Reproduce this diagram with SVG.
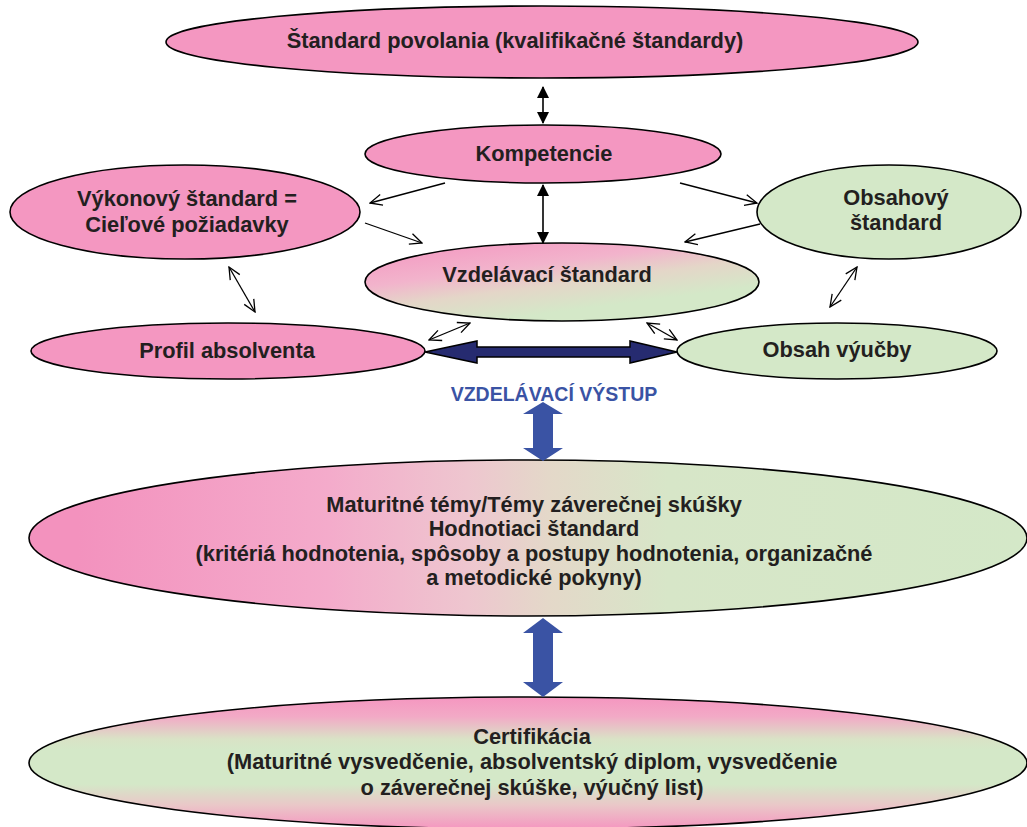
<svg xmlns="http://www.w3.org/2000/svg" width="1027" height="827" viewBox="0 0 1027 827">
<style>
.n{stroke:#000;stroke-width:1.6}
.pink{fill:#f497c1}
.green{fill:#d4e8c8}
.t{font-family:"Liberation Sans",Arial,sans-serif;font-weight:bold;font-size:21.8px;fill:#231f20;text-anchor:middle}
.ln{stroke:#000;stroke-width:1.3;fill:none}
.blk{stroke:#000;stroke-width:1.6;fill:none}
.blue{fill:#3a53a4}
.lbl{font-family:"Liberation Sans",Arial,sans-serif;font-weight:bold;font-size:19.5px;fill:#3a53a4;text-anchor:middle}
</style>
<defs>
<marker id="open" viewBox="0 0 14 14" refX="13" refY="7" markerWidth="14" markerHeight="14" markerUnits="userSpaceOnUse" orient="auto-start-reverse">
<path d="M1,1.5 L13,7 L1,12.5" fill="none" stroke="#000" stroke-width="1.3"/>
</marker>
<marker id="solid" viewBox="0 0 12 12" refX="11" refY="6" markerWidth="12" markerHeight="12" markerUnits="userSpaceOnUse" orient="auto-start-reverse">
<path d="M0,0 L12,6 L0,12 Z" fill="#000"/>
</marker>
<linearGradient id="gVz" x1="0.1" y1="0" x2="0.75" y2="1">
<stop offset="0" stop-color="#f497c1"/>
<stop offset="0.35" stop-color="#f2b4cc"/>
<stop offset="0.55" stop-color="#e4d6c8"/>
<stop offset="0.8" stop-color="#d4e8c8"/>
<stop offset="1" stop-color="#d4e8c8"/>
</linearGradient>
<linearGradient id="gMat" x1="0" y1="0" x2="1" y2="0">
<stop offset="0.05" stop-color="#f392be"/>
<stop offset="0.3" stop-color="#f4abcb"/>
<stop offset="0.44" stop-color="#eec6cf"/>
<stop offset="0.52" stop-color="#e4d8c9"/>
<stop offset="0.64" stop-color="#d7e6c8"/>
<stop offset="1" stop-color="#d4e8c8"/>
</linearGradient>
<linearGradient id="gCert" x1="0" y1="0" x2="0" y2="1">
<stop offset="0" stop-color="#f596c0"/>
<stop offset="0.15" stop-color="#f2aac6"/>
<stop offset="0.32" stop-color="#d9e3c6"/>
<stop offset="0.4" stop-color="#d4e8c8"/>
<stop offset="0.66" stop-color="#d4e8c8"/>
<stop offset="0.82" stop-color="#eac7c8"/>
<stop offset="1" stop-color="#f596c0"/>
</linearGradient>
</defs>

<g id="node-standard-povolania">
<ellipse class="n pink" cx="542" cy="42" rx="376" ry="36"/>
<text class="t" x="515" y="48">Štandard povolania (kvalifikačné štandardy)</text>
</g>
<g id="node-kompetencie">
<ellipse class="n pink" cx="543" cy="154" rx="178" ry="29"/>
<text class="t" x="544" y="161">Kompetencie</text>
</g>
<g id="node-vykonovy">
<ellipse class="n pink" cx="185" cy="212" rx="175" ry="47"/>
<text class="t" x="187" y="206">Výkonový štandard =</text>
<text class="t" x="187" y="232">Cieľové požiadavky</text>
</g>
<g id="node-obsahovy">
<ellipse class="n green" cx="889" cy="212" rx="132" ry="47"/>
<text class="t" x="896" y="205">Obsahový</text>
<text class="t" x="896" y="230">štandard</text>
</g>
<g id="node-vzdelavaci">
<ellipse class="n" fill="url(#gVz)" cx="562" cy="282" rx="197" ry="39"/>
<text class="t" x="547" y="282">Vzdelávací štandard</text>
</g>
<g id="node-profil">
<ellipse class="n pink" cx="228" cy="351" rx="197" ry="28"/>
<text class="t" x="227" y="358">Profil absolventa</text>
</g>
<g id="node-obsah-vyucby">
<ellipse class="n green" cx="837" cy="351" rx="160" ry="28"/>
<text class="t" x="837" y="357">Obsah výučby</text>
</g>
<g id="node-maturitne">
<ellipse class="n" fill="url(#gMat)" cx="528" cy="538" rx="499" ry="78"/>
<text class="t" x="534" y="512">Maturitné témy/Témy záverečnej skúšky</text>
<text class="t" x="534" y="536">Hodnotiaci štandard</text>
<text class="t" x="534" y="561">(kritériá hodnotenia, spôsoby a postupy hodnotenia, organizačné</text>
<text class="t" x="534" y="585">a metodické pokyny)</text>
</g>
<g id="node-certifikacia">
<ellipse class="n" fill="url(#gCert)" cx="528" cy="763" rx="499" ry="66"/>
<text class="t" x="532" y="744">Certifikácia</text>
<text class="t" x="532" y="769">(Maturitné vysvedčenie, absolventský diplom, vysvedčenie</text>
<text class="t" x="532" y="795">o záverečnej skúške, výučný list)</text>
</g>
<g id="label-vystup">
<text class="lbl" x="554" y="401">VZDELÁVACÍ VÝSTUP</text>
</g>

<g id="connectors">
<line class="blk" x1="543" y1="87" x2="543" y2="123" marker-start="url(#solid)" marker-end="url(#solid)"/>
<line class="blk" x1="543" y1="185" x2="543" y2="243" marker-start="url(#solid)" marker-end="url(#solid)"/>
<line class="ln" x1="445" y1="183" x2="370" y2="203" marker-end="url(#open)"/>
<line class="ln" x1="365" y1="223" x2="422" y2="243" marker-end="url(#open)"/>
<line class="ln" x1="680" y1="183" x2="757" y2="203" marker-end="url(#open)"/>
<line class="ln" x1="760" y1="224" x2="685" y2="242" marker-end="url(#open)"/>
<line class="ln" x1="229" y1="267" x2="255" y2="312" marker-start="url(#open)" marker-end="url(#open)"/>
<line class="ln" x1="857" y1="267" x2="830" y2="307" marker-start="url(#open)" marker-end="url(#open)"/>
<line class="ln" x1="429" y1="340" x2="470" y2="323" marker-start="url(#open)" marker-end="url(#open)"/>
<line class="ln" x1="647" y1="323" x2="677" y2="340" marker-start="url(#open)" marker-end="url(#open)"/>
<polygon points="425,352 477,341 477,347 630,347 630,341 677,352 630,363 630,357 477,357 477,363" fill="#262b70" stroke="#000" stroke-width="1.5" stroke-linejoin="miter"/>
<polygon class="blue" points="543,402 563,414 553,414 553,448 563,448 543,461 523,448 533,448 533,414 523,414"/>
<polygon class="blue" points="543,618 563,633 553,633 553,682 563,682 543,697 523,682 533,682 533,633 523,633"/>
</g>
</svg>
